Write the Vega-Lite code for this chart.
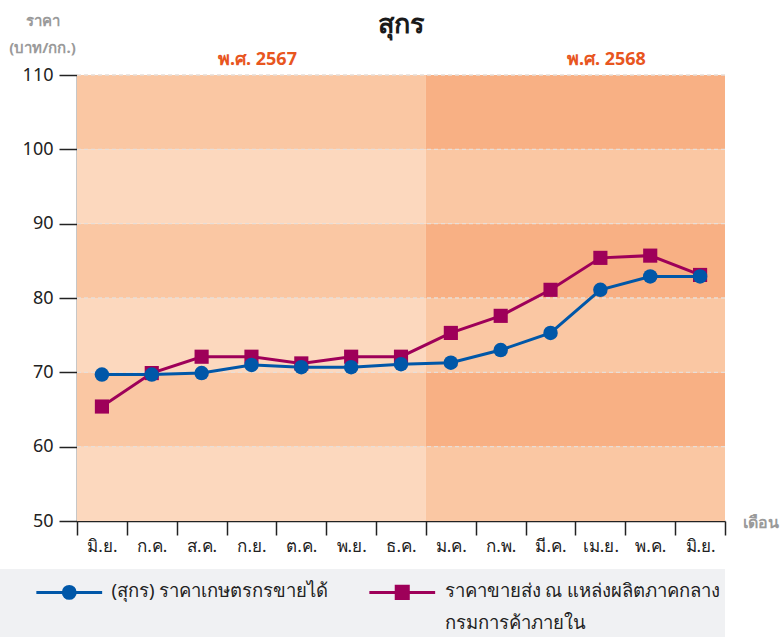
{
  "$schema": "https://vega.github.io/schema/vega-lite/v6.json",
  "width": 648,
  "height": 446,
  "autosize": {"type": "none"},
  "padding": {"left": 77, "top": 75, "right": 57, "bottom": 116},
  "background": "white",
  "config": {
    "font": "Noto Sans",
    "view": {"stroke": null},
    "style": {"guide-label": {"lineHeight": 32}}
  },
  "title": {"text": "สุกร", "fontSize": 27, "fontWeight": "bold", "color": "#1a1a1a", "anchor": "middle", "frame": "group", "dy": 30},
  "datasets": {
    "bands": [
      {"x0": 0, "x1": 7, "y0": 50, "y1": 60, "shade": "light"},
      {"x0": 0, "x1": 7, "y0": 60, "y1": 70, "shade": "medium"},
      {"x0": 0, "x1": 7, "y0": 70, "y1": 80, "shade": "light"},
      {"x0": 0, "x1": 7, "y0": 80, "y1": 90, "shade": "medium"},
      {"x0": 0, "x1": 7, "y0": 90, "y1": 100, "shade": "light"},
      {"x0": 0, "x1": 7, "y0": 100, "y1": 110, "shade": "medium"},
      {"x0": 7, "x1": 13, "y0": 50, "y1": 60, "shade": "medium"},
      {"x0": 7, "x1": 13, "y0": 60, "y1": 70, "shade": "dark"},
      {"x0": 7, "x1": 13, "y0": 70, "y1": 80, "shade": "medium"},
      {"x0": 7, "x1": 13, "y0": 80, "y1": 90, "shade": "dark"},
      {"x0": 7, "x1": 13, "y0": 90, "y1": 100, "shade": "medium"},
      {"x0": 7, "x1": 13, "y0": 100, "y1": 110, "shade": "dark"}
    ],
    "grid": [{"v": 60}, {"v": 70}, {"v": 80}, {"v": 90}, {"v": 100}, {"v": 110}],
    "years": [
      {"year": "พ.ศ. 2567", "month": "ก.ย. 67"},
      {"year": "พ.ศ. 2568", "month": "เม.ย. 68"}
    ],
    "prices": [
      {"month": "มิ.ย. 67", "series": "ราคาขายส่ง ณ แหล่งผลิตภาคกลาง|กรมการค้าภายใน", "price": 65.4},
      {"month": "ก.ค. 67", "series": "ราคาขายส่ง ณ แหล่งผลิตภาคกลาง|กรมการค้าภายใน", "price": 69.9},
      {"month": "ส.ค. 67", "series": "ราคาขายส่ง ณ แหล่งผลิตภาคกลาง|กรมการค้าภายใน", "price": 72.1},
      {"month": "ก.ย. 67", "series": "ราคาขายส่ง ณ แหล่งผลิตภาคกลาง|กรมการค้าภายใน", "price": 72.1},
      {"month": "ต.ค. 67", "series": "ราคาขายส่ง ณ แหล่งผลิตภาคกลาง|กรมการค้าภายใน", "price": 71.2},
      {"month": "พ.ย. 67", "series": "ราคาขายส่ง ณ แหล่งผลิตภาคกลาง|กรมการค้าภายใน", "price": 72.1},
      {"month": "ธ.ค. 67", "series": "ราคาขายส่ง ณ แหล่งผลิตภาคกลาง|กรมการค้าภายใน", "price": 72.1},
      {"month": "ม.ค. 68", "series": "ราคาขายส่ง ณ แหล่งผลิตภาคกลาง|กรมการค้าภายใน", "price": 75.3},
      {"month": "ก.พ. 68", "series": "ราคาขายส่ง ณ แหล่งผลิตภาคกลาง|กรมการค้าภายใน", "price": 77.6},
      {"month": "มี.ค. 68", "series": "ราคาขายส่ง ณ แหล่งผลิตภาคกลาง|กรมการค้าภายใน", "price": 81.1},
      {"month": "เม.ย. 68", "series": "ราคาขายส่ง ณ แหล่งผลิตภาคกลาง|กรมการค้าภายใน", "price": 85.4},
      {"month": "พ.ค. 68", "series": "ราคาขายส่ง ณ แหล่งผลิตภาคกลาง|กรมการค้าภายใน", "price": 85.7},
      {"month": "มิ.ย. 68", "series": "ราคาขายส่ง ณ แหล่งผลิตภาคกลาง|กรมการค้าภายใน", "price": 83.1},
      {"month": "มิ.ย. 67", "series": "(สุกร) ราคาเกษตรกรขายได้|", "price": 69.7},
      {"month": "ก.ค. 67", "series": "(สุกร) ราคาเกษตรกรขายได้|", "price": 69.7},
      {"month": "ส.ค. 67", "series": "(สุกร) ราคาเกษตรกรขายได้|", "price": 69.9},
      {"month": "ก.ย. 67", "series": "(สุกร) ราคาเกษตรกรขายได้|", "price": 71.0},
      {"month": "ต.ค. 67", "series": "(สุกร) ราคาเกษตรกรขายได้|", "price": 70.7},
      {"month": "พ.ย. 67", "series": "(สุกร) ราคาเกษตรกรขายได้|", "price": 70.7},
      {"month": "ธ.ค. 67", "series": "(สุกร) ราคาเกษตรกรขายได้|", "price": 71.1},
      {"month": "ม.ค. 68", "series": "(สุกร) ราคาเกษตรกรขายได้|", "price": 71.3},
      {"month": "ก.พ. 68", "series": "(สุกร) ราคาเกษตรกรขายได้|", "price": 73.0},
      {"month": "มี.ค. 68", "series": "(สุกร) ราคาเกษตรกรขายได้|", "price": 75.3},
      {"month": "เม.ย. 68", "series": "(สุกร) ราคาเกษตรกรขายได้|", "price": 81.1},
      {"month": "พ.ค. 68", "series": "(สุกร) ราคาเกษตรกรขายได้|", "price": 82.9},
      {"month": "มิ.ย. 68", "series": "(สุกร) ราคาเกษตรกรขายได้|", "price": 82.9}
    ]
  },
  "layer": [
    {
      "data": {"name": "bands"},
      "mark": {"type": "rect"},
      "encoding": {
        "x": {"field": "x0", "type": "quantitative", "scale": {"domain": [0, 13], "nice": false, "zero": false},
          "axis": {"orient": "bottom", "values": [0,1,2,3,4,5,6,7,8,9,10,11,12,13], "labels": false, "tickSize": 14,
            "tickColor": "#222222", "domainColor": "#222222", "tickWidth": 1.5, "domainWidth": 1.5, "grid": false, "title": null}},
        "x2": {"field": "x1"},
        "y": {"field": "y0", "type": "quantitative", "title": ["ราคา", "(บาท/กก.)"],
          "scale": {"domain": [50, 110], "nice": false, "zero": false},
          "axis": {"values": [50, 60, 70, 80, 90, 100, 110],
            "domainColor": "#222222", "domainWidth": 1.5, "tickColor": "#222222", "tickWidth": 1.5,
            "tickSize": 18, "labelFontSize": 18, "labelColor": "#222222", "labelPadding": 6, "grid": false,
            "titleAngle": 0, "titleAlign": "center", "titleBaseline": "top", "titleX": -35, "titleY": -62,
            "titleFontSize": 15, "titleFontWeight": "bold", "titleColor": "#9a9a9a", "titleLineHeight": 27}},
        "y2": {"field": "y1"},
        "fill": {"field": "shade", "type": "nominal",
          "scale": {"domain": ["light", "medium", "dark"], "range": ["#FCD8BE", "#FAC7A3", "#F8B084"]}, "legend": null}
      }
    },
    {
      "data": {"name": "grid"},
      "mark": {"type": "rule", "stroke": "#E8DED8", "strokeDash": [4, 3], "strokeWidth": 1.3},
      "encoding": {"y": {"field": "v", "type": "quantitative", "title": ["ราคา", "(บาท/กก.)"]}}
    },
    {
      "data": {"name": "prices"},
      "layer": [
        {
          "mark": {"type": "line", "strokeWidth": 3},
          "encoding": {
            "x": {"field": "month", "type": "ordinal", "title": "เดือน",
              "scale": {"type": "point", "padding": 0.5, "domain": ["มิ.ย. 67","ก.ค. 67","ส.ค. 67","ก.ย. 67","ต.ค. 67","พ.ย. 67","ธ.ค. 67","ม.ค. 68","ก.พ. 68","มี.ค. 68","เม.ย. 68","พ.ค. 68","มิ.ย. 68"]},
              "axis": {"orient": "bottom", "ticks": false, "domain": false, "labelAngle": 0, "labelExpr": "split(datum.value, ' ')[0]",
                "labelFontSize": 17, "labelColor": "#222222", "labelPadding": 17, "titleX": 683, "titleY": 1, "titleAlign": "center",
                "titleBaseline": "middle", "titleFontSize": 16, "titleFontWeight": "bold", "titleColor": "#9a9a9a"}},
            "y": {"field": "price", "type": "quantitative", "title": ["ราคา", "(บาท/กก.)"]},
            "stroke": {"field": "series", "type": "nominal", "title": null,
              "scale": {"domain": ["(สุกร) ราคาเกษตรกรขายได้|", "ราคาขายส่ง ณ แหล่งผลิตภาคกลาง|กรมการค้าภายใน"], "range": ["#0057A8", "#9E0059"]}}
          }
        },
        {
          "transform": [{"filter": "indexof(datum.series, 'ราคาขายส่ง') >= 0"}],
          "mark": {"type": "point", "shape": "square", "filled": true, "opacity": 1, "size": 200, "color": "#9E0059"},
          "encoding": {
            "x": {"field": "month", "type": "ordinal", "title": "เดือน"},
            "y": {"field": "price", "type": "quantitative", "title": ["ราคา", "(บาท/กก.)"]}
          }
        },
        {
          "transform": [{"filter": "indexof(datum.series, 'ราคาขายส่ง') < 0"}],
          "mark": {"type": "point", "shape": "circle", "filled": true, "opacity": 1, "size": 210, "color": "#0057A8"},
          "encoding": {
            "x": {"field": "month", "type": "ordinal", "title": "เดือน"},
            "y": {"field": "price", "type": "quantitative", "title": ["ราคา", "(บาท/กก.)"]}
          }
        },
        {
          "mark": {"type": "point", "filled": true, "opacity": 0, "size": 196},
          "encoding": {
            "x": {"field": "month", "type": "ordinal", "title": "เดือน"},
            "y": {"field": "price", "type": "quantitative", "title": ["ราคา", "(บาท/กก.)"]},
            "color": {"field": "series", "type": "nominal", "title": null,
              "scale": {"domain": ["(สุกร) ราคาเกษตรกรขายได้|", "ราคาขายส่ง ณ แหล่งผลิตภาคกลาง|กรมการค้าภายใน"], "range": ["#0057A8", "#9E0059"]},
              "legend": {
                "orient": "none", "legendX": -77, "legendY": 494, "direction": "horizontal", "columns": 2,
                "fillColor": "#F0F1F3", "padding": 4, "title": null, "symbolSize": 196, "symbolOffset": 56,
                "symbolOpacity": 1, "symbolStrokeWidth": 3,
                "labelOffset": 33, "columnPadding": 8, "labelFontSize": 18.5, "labelColor": "#222222",
                "labelExpr": "split(datum.label, '|')", "labelBaseline": "top", "labelLimit": 400
              }},
            "stroke": {"field": "series", "type": "nominal", "title": null},
            "shape": {"field": "series", "type": "nominal", "title": null,
              "scale": {"domain": ["(สุกร) ราคาเกษตรกรขายได้|", "ราคาขายส่ง ณ แหล่งผลิตภาคกลาง|กรมการค้าภายใน"],
                "range": [
                  "M-4.7,1.43H4.7M-0.85,1.43A0.85,0.85,0,1,1,0.85,1.43A0.85,0.85,0,1,1,-0.85,1.43ZM-0.45,1.43A0.45,0.45,0,1,1,0.45,1.43A0.45,0.45,0,1,1,-0.45,1.43ZM-0.12,1.43A0.12,0.12,0,1,1,0.12,1.43A0.12,0.12,0,1,1,-0.12,1.43Z",
                  "M-4.7,1.43H4.7M-0.86,0.57H0.86V2.29H-0.86ZM-0.46,0.97H0.46V1.89H-0.46ZM-0.1,1.33H0.1V1.53H-0.1Z"
                ]}}
          }
        },
        {
          "data": {"name": "years"},
          "mark": {"type": "text", "fontSize": 18, "fontWeight": "bold", "color": "#E8561F", "dy": -15, "dx": 6, "baseline": "middle"},
          "encoding": {
            "x": {"field": "month", "type": "ordinal", "title": "เดือน"},
            "y": {"datum": 110},
            "text": {"field": "year"}
          }
        }
      ]
    }
  ],
  "resolve": {"scale": {"x": "independent"}, "axis": {"x": "independent"}}
}
